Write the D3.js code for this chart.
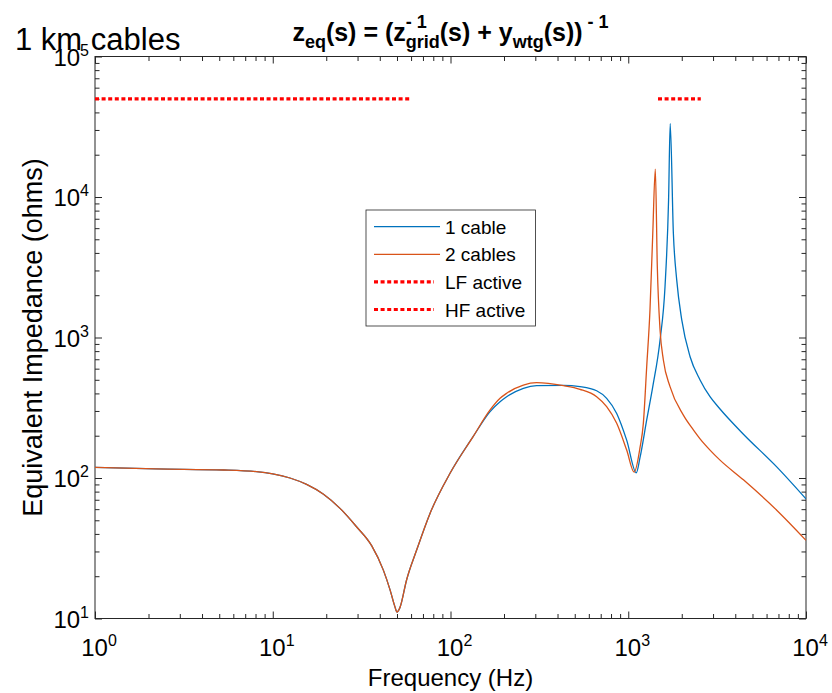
<!DOCTYPE html>
<html>
<head>
<meta charset="utf-8">
<script src="https://cdn.jsdelivr.net/npm/d3@7"></script>
<style>
  body { margin: 0; background: #fff; }
  svg { display: block; }
  text { font-family: "Liberation Sans", Arial, sans-serif; fill: #000; }
</style>
</head>
<body>
<svg width="832" height="693"></svg>
<script>
// values
const freqLow = [1, 2.2, 5.3, 8.1, 10, 12.5, 15.5, 19.3, 23.9, 29.6, 36, 41.9, 45.7, 48.7, 50, 52, 56.6, 64.5, 76.7, 99.4, 134];
const zLow = [119, 116, 114, 111, 107, 100, 90, 76.6, 60.8, 45, 33, 22.1, 16, 12.1, 11.1, 12.0, 18.8, 30.7, 56, 108, 197];

const freqOne = [167, 190, 207, 257, 305, 432, 535, 664, 756, 861, 980, 1110, 1165, 1270, 1374, 1510, 1610, 1686, 1722, 1794, 1874, 2000, 2228, 2535, 2884, 3283, 4446, 6844, 10000];
const zOne = [297, 349, 379, 435, 454, 456, 447, 418, 369, 288, 186, 109, 140, 259, 447, 960, 2300, 9530, 33400, 5520, 2560, 1333, 730, 499, 379, 310, 205, 120, 71];

const freqTwo = [167, 190, 207, 257, 305, 432, 535, 664, 756, 861, 980, 1080, 1165, 1216, 1270, 1325, 1374, 1420, 1457, 1510, 1576, 1718, 2042, 2324, 2535, 2884, 3283, 4446, 6844, 10000];
const zTwo = [305, 369, 401, 459, 477, 454, 428, 379, 322, 245, 158, 110, 165, 245, 620, 1570, 5520, 15800, 3200, 1130, 692, 447, 280, 220, 190, 158, 134, 97, 59, 36];

const lfBand = [1, 60];
const hfBand = [1470, 2560];
const activeLevel = 5e4;

const xDecades = [1, 10, 100, 1000, 10000];
const yDecades = [10, 100, 1000, 10000, 100000];

const legendLabels = ["1 cable", "2 cables", "LF active", "HF active"];

const svg = d3.select("svg");
const margin = { left: 95, right: 806, top: 56.5, bottom: 618.5 };

const x = d3.scaleLog().domain([1, 1e4]).range([margin.left, margin.right]);
const y = d3.scaleLog().domain([10, 1e5]).range([margin.bottom, margin.top]);

const blue = "#0072BD";
const orange = "#D95319";
const axisColor = "#262626";

const minors = decades => {
  const out = [];
  decades.slice(0, -1).forEach(d => {
    for (let k = 2; k <= 9; k++) out.push(d * k);
  });
  return out;
};

// ticks on all four sides, pointing inward
const tickGroup = (axis, tx, ty) => {
  const g = svg.append("g").attr("transform", `translate(${tx},${ty})`).call(axis);
  g.select(".domain").remove();
  g.selectAll("line").attr("stroke", axisColor);
  return g;
};
const xMin = minors(xDecades);
const yMin = minors(yDecades);
tickGroup(d3.axisBottom(x).tickValues(xDecades).tickSize(-7).tickFormat(""), 0, margin.bottom);
tickGroup(d3.axisBottom(x).tickValues(xMin).tickSize(-4.5).tickFormat(""), 0, margin.bottom);
tickGroup(d3.axisTop(x).tickValues(xDecades).tickSize(-7).tickFormat(""), 0, margin.top);
tickGroup(d3.axisTop(x).tickValues(xMin).tickSize(-4.5).tickFormat(""), 0, margin.top);
tickGroup(d3.axisLeft(y).tickValues(yDecades).tickSize(-7).tickFormat(""), margin.left, 0);
tickGroup(d3.axisLeft(y).tickValues(yMin).tickSize(-4.5).tickFormat(""), margin.left, 0);
tickGroup(d3.axisRight(y).tickValues(yDecades).tickSize(-7).tickFormat(""), margin.right, 0);
tickGroup(d3.axisRight(y).tickValues(yMin).tickSize(-4.5).tickFormat(""), margin.right, 0);

svg.append("rect")
  .attr("x", margin.left).attr("y", margin.top)
  .attr("width", margin.right - margin.left)
  .attr("height", margin.bottom - margin.top)
  .attr("fill", "none").attr("stroke", axisColor).attr("stroke-width", 1);

// tick labels with superscript exponents
const powLabel = (sel, v) => {
  sel.append("tspan").text("10");
  sel.append("tspan").attr("font-size", 16).attr("dy", -10).text(Math.round(Math.log10(v)));
};
svg.append("g").selectAll("text")
  .data(xDecades).enter().append("text")
  .attr("x", d => x(d) + 4).attr("y", 656)
  .attr("text-anchor", "middle").attr("font-size", 24)
  .each(function (d) { powLabel(d3.select(this), d); });
svg.append("g").selectAll("text")
  .data(yDecades).enter().append("text")
  .attr("x", 89).attr("y", d => y(d) + 9)
  .attr("text-anchor", "end").attr("font-size", 24)
  .each(function (d) { powLabel(d3.select(this), d); });

svg.append("text").attr("x", 450.5).attr("y", 686)
  .attr("text-anchor", "middle").attr("font-size", 24).text("Frequency (Hz)");
svg.append("text")
  .attr("transform", `translate(42,${(margin.top + margin.bottom) / 2}) rotate(-90)`)
  .attr("text-anchor", "middle").attr("font-size", 27).text("Equivalent Impedance (ohms)");

svg.append("text").attr("x", 15).attr("y", 50).attr("font-size", 31).text("1 km cables");

// title: z_eq(s) = (z^{-1}_{grid}(s) + y_{wtg}(s))^{-1}
const title = svg.append("g");
const tt = title.append("text").attr("y", 41).attr("font-size", 25).attr("font-weight", "bold");
tt.append("tspan").text("z");
tt.append("tspan").attr("font-size", 18).attr("dy", 7).text("eq");
tt.append("tspan").attr("dy", -7).text("(s) = (z");
tt.append("tspan").attr("font-size", 18).attr("dy", 7).text("grid");
tt.append("tspan").attr("dy", -7).text("(s) + y");
tt.append("tspan").attr("font-size", 18).attr("dy", 7).text("wtg");
tt.append("tspan").attr("dy", -7).text("(s))");
tt.append("tspan").attr("font-size", 18).attr("dy", -13).text(" - 1");
const gridStart = tt.node().getStartPositionOfChar("zeq(s) = (z".length).x;
title.append("text").attr("x", gridStart).attr("y", 28)
  .attr("font-size", 18).attr("font-weight", "bold").text("- 1");
const tw = tt.node().getBBox().width;
title.attr("transform", `translate(${450.5 - tw / 2},0)`);

// data lines
const plot = svg.append("g");
svg.append("clipPath").attr("id", "clip").append("rect")
  .attr("x", margin.left).attr("y", margin.top)
  .attr("width", margin.right - margin.left)
  .attr("height", margin.bottom - margin.top);
plot.attr("clip-path", "url(#clip)");

const line = d3.line().x(d => x(d[0])).y(d => y(d[1])).curve(d3.curveMonotoneX);
const seriesOne = d3.zip(freqLow.concat(freqOne), zLow.concat(zOne));
const seriesTwo = d3.zip(freqLow.concat(freqTwo), zLow.concat(zTwo));

plot.append("path").datum(seriesOne).attr("d", line)
  .attr("fill", "none").attr("stroke", blue).attr("stroke-width", 1.3);
plot.append("path").datum(seriesTwo).attr("d", line)
  .attr("fill", "none").attr("stroke", orange).attr("stroke-width", 1.3);

const dotted = "4,2.6";
[lfBand, hfBand].forEach(band => {
  plot.append("line")
    .attr("x1", x(band[0])).attr("x2", x(band[1]))
    .attr("y1", y(activeLevel)).attr("y2", y(activeLevel))
    .attr("stroke", "#FF0000").attr("stroke-width", 3.2)
    .attr("stroke-dasharray", dotted);
});

// legend
const legend = svg.append("g").attr("transform", "translate(366,210)");
legend.append("rect").attr("width", 169.5).attr("height", 116)
  .attr("fill", "#fff").attr("stroke", axisColor).attr("stroke-width", 0.8);
const legendStyle = [
  { color: blue, width: 1.3, dash: null },
  { color: orange, width: 1.3, dash: null },
  { color: "#FF0000", width: 3.2, dash: dotted },
  { color: "#FF0000", width: 3.2, dash: dotted }
];
legendLabels.forEach((label, i) => {
  const yy = 16.7 + i * 27.6;
  const st = legendStyle[i];
  legend.append("line")
    .attr("x1", 8).attr("x2", st.dash ? 68 : 74)
    .attr("y1", yy).attr("y2", yy)
    .attr("stroke", st.color).attr("stroke-width", st.width)
    .attr("stroke-dasharray", st.dash);
  legend.append("text").attr("x", 79).attr("y", yy + 7)
    .attr("font-size", 19).text(label);
});
</script>
</body>
</html>
